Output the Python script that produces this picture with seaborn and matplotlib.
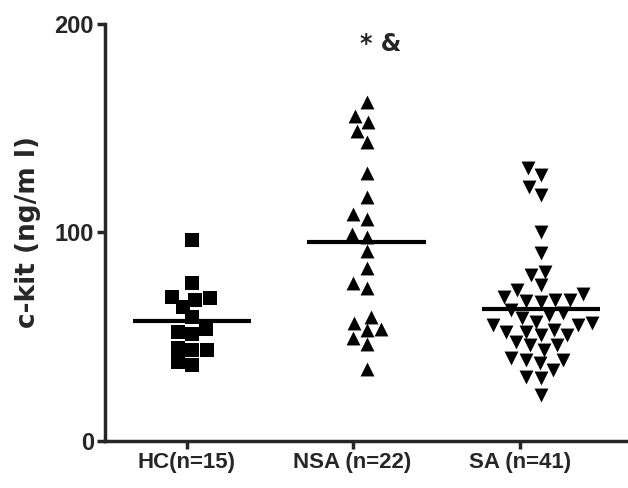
import matplotlib
matplotlib.use("Agg")
import matplotlib.pyplot as plt
import seaborn as sns
import pandas as pd
import numpy as np

groups = ["HC(n=15)", "NSA (n=22)", "SA (n=41)"]
markers = ["s", "^", "v"]

hc = [96.3, 75.5, 68.4, 64.3, 67.5, 69.1, 59.3, 52.4, 51.3, 53.5, 44.7, 43.6, 43.6, 36.4, 38.0]
nsa = [162.5, 155.7, 153.0, 148.6, 143.4, 128.5, 117.0, 108.6, 106.2, 99.2, 97.9,
       91.2, 82.7, 75.8, 73.1, 59.5, 53.2, 53.5, 56.4, 49.2, 46.5, 34.3]
sa = [127.4, 130.6, 121.5, 117.8, 100.3, 90.2, 81.1, 79.5,
      74.7, 72.3, 70.4, 67.5, 67.5, 66.7, 67.2, 68.8, 62.8,
      61.2, 60.4, 57.1, 55.6, 58.8, 56.4, 55.6,
      53.2, 52.4, 50.8, 50.8, 52.4, 47.6, 46.0, 46.0, 43.6,
      38.8, 38.8, 37.2, 39.6, 30.8, 30.0, 34.0, 22.0]

values = [hc, nsa, sa]
df = pd.DataFrame({
    "group": [g for g, v in zip(groups, values) for _ in v],
    "value": [x for v in values for x in v],
})

sns.set_style("ticks")
plt.rcParams["font.family"] = ["Liberation Sans Narrow", "Liberation Sans", "DejaVu Sans"]
plt.rcParams["font.weight"] = "bold"

fig = plt.figure(figsize=(6.28, 4.88), dpi=100)
ax = fig.add_axes([0.1672, 0.0963, 0.833, 0.8555])

for g, m in zip(groups, markers):
    sns.swarmplot(data=df[df["group"] == g], x="group", y="value", order=groups,
                  marker=m, color="black", size=10, ax=ax, linewidth=0)

means = df.groupby("group", sort=False)["value"].mean().reindex(groups).values
for i, mval in enumerate(means):
    ax.hlines(mval, i - 0.34, i + 0.34, color="black", linewidth=3, zorder=5)

tick_shift = [-0.03, -0.08, -0.12]
ax.set_ylim(0, 200)
ax.set_xlim(-0.5, 2.5)
ax.set_yticks([0, 100, 200])
ax.set_yticklabels(["0", "100", "200"], fontsize=17, fontweight="bold")
ax.set_xticks([i + s for i, s in enumerate(tick_shift)])
ax.set_xticklabels(groups, fontsize=16, fontweight="bold")
ax.set_xlabel("")
ax.set_ylabel("c-kit (ng/m l)", fontsize=19, fontweight="bold",
              family=["DejaVu Sans"], labelpad=10)
for s in ["top", "right"]:
    ax.spines[s].set_visible(False)
for s in ["left", "bottom"]:
    ax.spines[s].set_linewidth(2.5)
ax.tick_params(axis="both", width=2.5, length=6, pad=2)

ax.text(1.08, 190, "* &", ha="center", va="center", fontsize=17, fontweight="bold",
        family=["DejaVu Sans"])

fig.savefig("out.png", dpi=100)
